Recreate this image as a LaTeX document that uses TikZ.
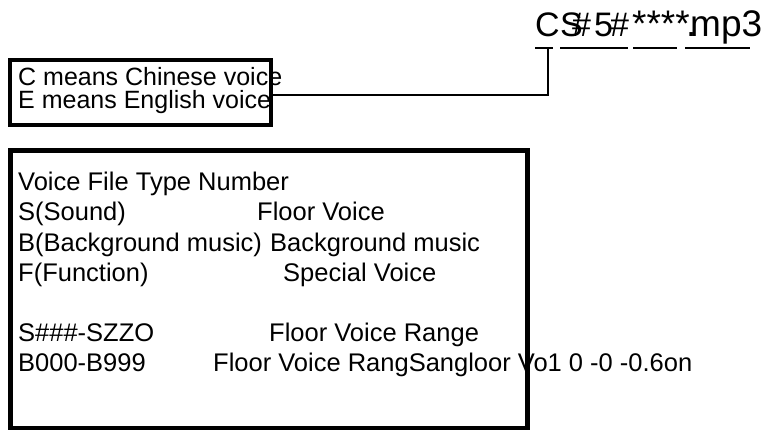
\documentclass[tikz,border=0pt]{standalone}
\usepackage{fontspec}
\setmainfont{Liberation Sans}
\begin{document}
\begin{tikzpicture}[x=1pt,y=-1pt,
  txt/.style={anchor=base west, inner sep=0pt, font=\fontsize{25.5}{30}\selectfont},
  txts/.style={anchor=base west, inner sep=0pt, font=\fontsize{25}{23}\selectfont},
  ttl/.style={anchor=base west, inner sep=0pt, font=\fontsize{34}{38}\selectfont},
  ttlb/.style={anchor=base west, inner sep=0pt, font=\fontsize{37}{40}\selectfont},
  boxthick/.style={draw, line width=4pt, minimum width=261pt, minimum height=65pt, inner sep=0pt},
  boxmain/.style={draw, line width=5pt, minimum width=517pt, minimum height=277pt, inner sep=0pt},
  conn/.style={line width=2pt}]
\useasboundingbox (0,0) rectangle (767,430);
% title
\node[ttl] (t1) at (535,37) {C};
\node[ttl] (t2) at (560,37) {S};
\node[ttl] (t3) at (572,37) {\#};
\node[ttl] (t4) at (594,37) {5};
\node[ttl] (t5) at (610,37) {\#};
\node[ttlb] (t6) at (632,37) {****};
\node[ttlb] (t7) at (686,37) {.};
\node[ttlb] (t8) at (690,37) {mp3};
% underlines
\coordinate (u1a) at (535,48); \coordinate (u1b) at (553,48);
\coordinate (u2a) at (560,48); \coordinate (u2b) at (628,48);
\coordinate (u3a) at (633,48); \coordinate (u3b) at (677,48);
\coordinate (u4a) at (685,48); \coordinate (u4b) at (750,48);
\coordinate (tap) at (548,48);
\draw[conn] (u1a) -- (u1b);
\draw[conn] (u2a) -- (u2b);
\draw[conn] (u3a) -- (u3b);
\draw[conn] (u4a) -- (u4b);
% small box text
\node[txts] (c1) at (18,86) {C means Chinese voice};
\node[txts] (c2) at (18,109) {E means English voice};
% main box text
\node[txt] (m1) at (18,191) {Voice File Type Number};
\node[txt] (m2a) at (18,221) {S(Sound)};
\node[txt] (m2b) at (257,221) {Floor Voice};
\node[txt] (m3a) at (18,251) {B(Background music)};
\node[txt] (m3b) at (270,251) {Background music};
\node[txt] (m4a) at (18,281) {F(Function)};
\node[txt] (m4b) at (283,281) {Special Voice};
\node[txt] (m5a) at (18,341) {S\#\#\#-SZZO};
\node[txt] (m5b) at (269,341) {Floor Voice Range};
\node[txt] (m6a) at (18,371) {B000-B999};
\node[txt] (m6b) at (213,371) {Floor Voice RangSangloor Vo1 0 -0 -0.6on};
% boxes
\node[boxthick] (cbox) at (140.5,92.5) {};
\node[boxmain] (mbox) at (268.5,289.5) {};
% connector
\draw[conn] (tap) |- ([yshift=-2.5pt]cbox.east);
\end{tikzpicture}
\end{document}
